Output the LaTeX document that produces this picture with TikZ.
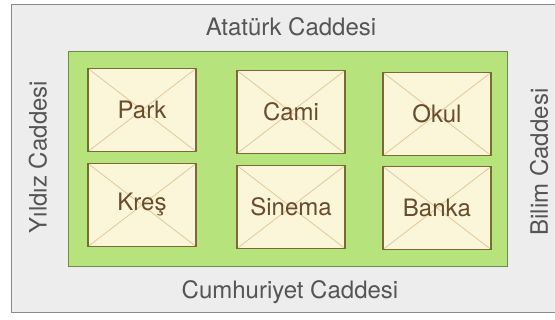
\documentclass[tikz,border=0pt]{standalone}
\usepackage{fontspec}
\setmainfont{TeX Gyre Heros}
\definecolor{bgGrey}{HTML}{EDEDED}
\definecolor{frameGrey}{HTML}{8A8A8A}
\definecolor{parkGreen}{HTML}{B6E37C}
\definecolor{greenEdge}{HTML}{6E8A4A}
\definecolor{boxFill}{HTML}{FBF5D9}
\definecolor{boxEdge}{HTML}{7C6A34}
\definecolor{diagTan}{HTML}{E2C998}
\definecolor{streetText}{HTML}{555555}
\definecolor{labelText}{HTML}{6A4C2C}
\begin{document}
\begin{tikzpicture}[x=1pt,y=-1pt,
  building/.style={draw=boxEdge, line width=1.2pt, fill=boxFill,
    minimum width=108pt, minimum height=83pt, inner sep=0pt,
    font=\fontsize{24}{28}\selectfont, text=labelText,
    path picture={\draw[diagTan, line width=0.8pt]
      (path picture bounding box.north west) -- (path picture bounding box.south east)
      (path picture bounding box.south west) -- (path picture bounding box.north east);}},
  street/.style={font=\fontsize{24}{28}\selectfont, text=streetText, inner sep=0pt}]
\useasboundingbox (0,0) rectangle (555,320);
\fill[white] (0,0) rectangle (555,320);
\draw[frameGrey, line width=1pt, fill=bgGrey] (11,5) rectangle (556,313);
\draw[greenEdge, line width=0.8pt, fill=parkGreen] (68,51) rectangle (507,266);
\node[building] (park)   at (142,110) {Park};
\node[building] (cami)   at (291,112) {Cami};
\node[building] (okul)   at (437,114) {Okul};
\node[building] (kres)   at (142,205) {Kreş};
\node[building] (sinema) at (291,207) {Sinema};
\node[building] (banka)  at (437,208) {Banka};
\node[street] (atat) at (291,27) {Atatürk Caddesi};
\node[street] (cumh) at (290,292) {Cumhuriyet Caddesi};
\node[street, rotate=90] (yild) at (38,157) {Yıldız Caddesi};
\node[street, rotate=90] (bili) at (539,162) {Bilim Caddesi};
\end{tikzpicture}
\end{document}
